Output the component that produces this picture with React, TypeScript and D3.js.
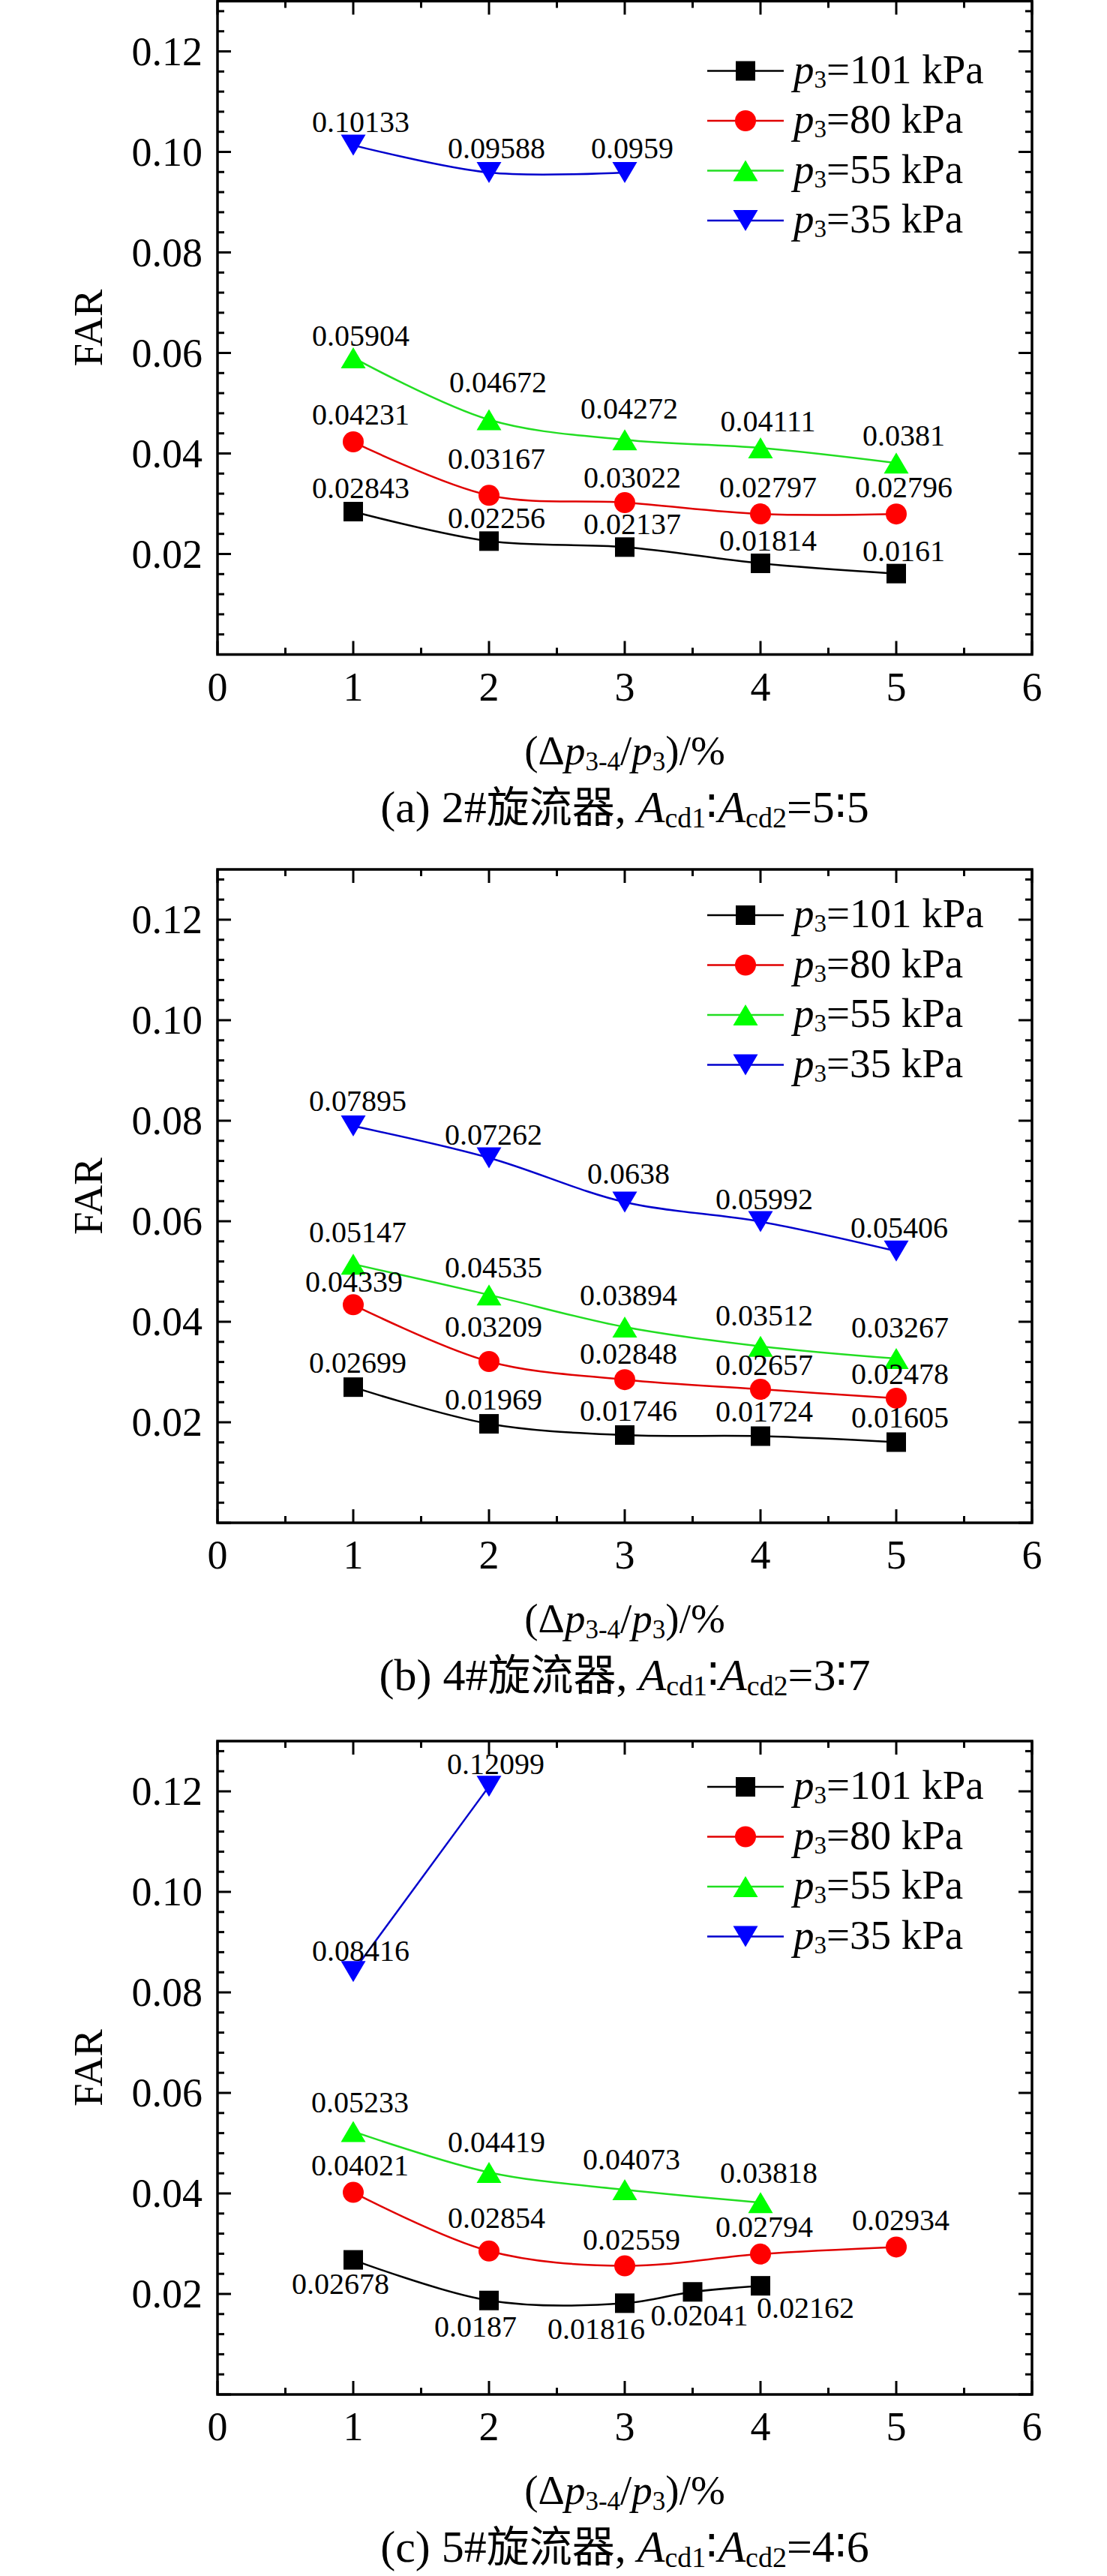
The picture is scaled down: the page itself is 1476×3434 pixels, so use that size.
import React from "react";
import * as d3 from "d3";

// ---------- data ----------
const seriesNames = ["101", "80", "55", "35"];
const seriesColors = ["#000000", "#ff0000", "#00ff00", "#0000ff"];
const lineColors = ["#000000", "#e00000", "#22dd22", "#0000cc"];
const seriesShapes = ["square", "circle", "up", "down"];

const captionsLetters = ["(a)", "(b)", "(c)"];
const captionsNum = ["2#", "4#", "5#"];
const captionsCjk = ["旋流器", "旋流器", "旋流器"];
const captionsRatio = ["=5∶5", "=3∶7", "=4∶6"];

// panel (a)
const aX101 = [1, 2, 3, 4, 5];
const aY101 = [0.02843, 0.02256, 0.02137, 0.01814, 0.0161];
const aX80 = [1, 2, 3, 4, 5];
const aY80 = [0.04231, 0.03167, 0.03022, 0.02797, 0.02796];
const aX55 = [1, 2, 3, 4, 5];
const aY55 = [0.05904, 0.04672, 0.04272, 0.04111, 0.0381];
const aX35 = [1, 2, 3];
const aY35 = [0.10133, 0.09588, 0.0959];

// panel (b)
const bX101 = [1, 2, 3, 4, 5];
const bY101 = [0.02699, 0.01969, 0.01746, 0.01724, 0.01605];
const bX80 = [1, 2, 3, 4, 5];
const bY80 = [0.04339, 0.03209, 0.02848, 0.02657, 0.02478];
const bX55 = [1, 2, 3, 4, 5];
const bY55 = [0.05147, 0.04535, 0.03894, 0.03512, 0.03267];
const bX35 = [1, 2, 3, 4, 5];
const bY35 = [0.07895, 0.07262, 0.0638, 0.05992, 0.05406];

// panel (c)
const cX101 = [1, 2, 3, 3.5, 4];
const cY101 = [0.02678, 0.0187, 0.01816, 0.02041, 0.02162];
const cX80 = [1, 2, 3, 4, 5];
const cY80 = [0.04021, 0.02854, 0.02559, 0.02794, 0.02934];
const cX55 = [1, 2, 3, 4];
const cY55 = [0.05233, 0.04419, 0.04073, 0.03818];
const cX35 = [1, 2];
const cY35 = [0.08416, 0.12099];

// label offsets (layout) [dx, dy] relative to marker centre
const aOff = [
  [[10, -18], [10, -17], [10, -17], [10, -17], [10, -17]],
  [[10, -23], [10, -35], [10, -20], [10, -22], [10, -22]],
  [[10, -16], [12, -36], [6, -28], [10, -22], [10, -23]],
  [[10, -18], [10, -19], [10, -19]],
];
const bOff = [
  [[6, -19], [6, -19], [5, -19], [5, -19], [5, -19]],
  [[1, -17], [6, -33], [5, -21], [5, -19], [5, -19]],
  [[6, -29], [6, -23], [5, -29], [5, -28], [5, -28]],
  [[6, -20], [6, -17], [5, -25], [5, -17], [4, -18]],
];
const cOff = [
  [[-17, 45], [-18, 48], [-38, 48], [9, 45], [60, 43]],
  [[9, -23], [10, -31], [9, -22], [5, -23], [6, -22]],
  [[9, -25], [10, -27], [9, -27], [11, -26]],
  [[10, -14], [9, -16]],
];

const xDomain = [0, 6];
const yDomain = [0, 0.13];

// ---------- layout ----------
const W = 1476;
const H = 3434;
const plotLeft = 290;
const plotRight = 1376;
const plotH = 871;
const panelTops = [1.5, 1159, 2321];
const legendRel = [93, 61, 61];

const SERIF = "Liberation Serif, Times New Roman, DejaVu Serif, serif";
const CJK = "Noto Sans CJK SC, Noto Sans CJK JP, sans-serif";

type Series = { xs: number[]; ys: number[]; off: number[][] };

const panels: Series[][] = [
  [
    { xs: aX101, ys: aY101, off: aOff[0] },
    { xs: aX80, ys: aY80, off: aOff[1] },
    { xs: aX55, ys: aY55, off: aOff[2] },
    { xs: aX35, ys: aY35, off: aOff[3] },
  ],
  [
    { xs: bX101, ys: bY101, off: bOff[0] },
    { xs: bX80, ys: bY80, off: bOff[1] },
    { xs: bX55, ys: bY55, off: bOff[2] },
    { xs: bX35, ys: bY35, off: bOff[3] },
  ],
  [
    { xs: cX101, ys: cY101, off: cOff[0] },
    { xs: cX80, ys: cY80, off: cOff[1] },
    { xs: cX55, ys: cY55, off: cOff[2] },
    { xs: cX35, ys: cY35, off: cOff[3] },
  ],
];

const serifStyle = { fontFamily: SERIF };
const cjkStyle = { fontFamily: CJK };

function Marker({ shape, x, y, color }: { shape: string; x: number; y: number; color: string }) {
  if (shape === "square") return <rect x={x - 13} y={y - 13} width={26} height={26} fill={color} />;
  if (shape === "circle") return <circle cx={x} cy={y} r={14} fill={color} />;
  if (shape === "up")
    return <polygon points={`${x},${y - 14} ${x + 16.5},${y + 14} ${x - 16.5},${y + 14}`} fill={color} />;
  return <polygon points={`${x},${y + 14} ${x - 16.5},${y - 14} ${x + 16.5},${y - 14}`} fill={color} />;
}

function Panel({ idx }: { idx: number }) {
  const top = panelTops[idx];
  const bottom = top + plotH;
  const x = d3.scaleLinear().domain(xDomain).range([plotLeft, plotRight]);
  const y = d3.scaleLinear().domain(yDomain).range([bottom, top]);
  const xMajor = x.ticks(6);
  const xMinor = x.ticks(12).filter((v) => !xMajor.includes(v));
  const yAll = d3.range(0, 0.1301, 0.004);
  const yMajor = [0.02, 0.04, 0.06, 0.08, 0.1, 0.12];
  const line = d3
    .line<[number, number]>()
    .x((d) => x(d[0]))
    .y((d) => y(d[1]))
    .curve(d3.curveCatmullRom.alpha(0.5));
  const series = panels[idx];
  const cx = (plotLeft + plotRight) / 2;
  const cy = (top + bottom) / 2;
  const legTop = top + legendRel[idx];
  return (
    <g style={serifStyle}>
      {series.map((s, i) => (
        <path
          key={"l" + i}
          d={line(s.xs.map((v, j) => [v, s.ys[j]] as [number, number])) || ""}
          fill="none"
          stroke={lineColors[i]}
          strokeWidth={2.5}
        />
      ))}
      {series.map((s, i) =>
        s.xs.map((v, j) => (
          <Marker key={"m" + i + "_" + j} shape={seriesShapes[i]} x={x(v)} y={y(s.ys[j])} color={seriesColors[i]} />
        ))
      )}
      {series.map((s, i) =>
        s.xs.map((v, j) => (
          <text
            key={"t" + i + "_" + j}
            x={x(v) + s.off[j][0]}
            y={y(s.ys[j]) + s.off[j][1]}
            textAnchor="middle"
            style={serifStyle}
            fontSize={40}
            fill="#000"
          >
            {String(s.ys[j])}
          </text>
        ))
      )}
      <rect x={plotLeft} y={top} width={plotRight - plotLeft} height={plotH} fill="none" stroke="#000" strokeWidth={3.5} />
      {xMajor.map((v) => (
        <g key={"xM" + v}>
          <line x1={x(v)} x2={x(v)} y1={bottom} y2={bottom - 18} stroke="#000" strokeWidth={3} />
          <line x1={x(v)} x2={x(v)} y1={top} y2={top + 18} stroke="#000" strokeWidth={3} />
          <text x={x(v)} y={bottom + 61} textAnchor="middle" style={serifStyle} fontSize={54}>
            {v}
          </text>
        </g>
      ))}
      {xMinor.map((v) => (
        <g key={"xm" + v}>
          <line x1={x(v)} x2={x(v)} y1={bottom} y2={bottom - 9} stroke="#000" strokeWidth={3} />
          <line x1={x(v)} x2={x(v)} y1={top} y2={top + 9} stroke="#000" strokeWidth={3} />
        </g>
      ))}
      {yAll.map((v, k) => {
        const len = k % 5 === 0 ? 18 : 9;
        return (
          <g key={"y" + k}>
            <line x1={plotLeft} x2={plotLeft + len} y1={y(v)} y2={y(v)} stroke="#000" strokeWidth={3} />
            <line x1={plotRight} x2={plotRight - len} y1={y(v)} y2={y(v)} stroke="#000" strokeWidth={3} />
          </g>
        );
      })}
      {yMajor.map((v) => (
        <text key={"yl" + v} x={270} y={y(v) + 18} textAnchor="end" style={serifStyle} fontSize={54}>
          {v.toFixed(2)}
        </text>
      ))}
      <text
        transform={`translate(${136},${cy}) rotate(-90)`}
        textAnchor="middle"
        style={serifStyle}
        fontSize={55}
      >
        FAR
      </text>
      <text x={cx} y={bottom + 146} textAnchor="middle" style={serifStyle} fontSize={55}>
        (Δ<tspan fontStyle="italic">p</tspan>
        <tspan fontSize={35} dy={8}>3-4</tspan>
        <tspan dy={-8}>/</tspan>
        <tspan fontStyle="italic">p</tspan>
        <tspan fontSize={35} dy={8}>3</tspan>
        <tspan dy={-8}>)/%</tspan>
      </text>
      {seriesNames.map((n, i) => {
        const ly = legTop + i * 66.5;
        return (
          <g key={"lg" + i}>
            <line x1={943} x2={1045} y1={ly} y2={ly} stroke={lineColors[i]} strokeWidth={2.5} />
            <Marker shape={seriesShapes[i]} x={994} y={ly} color={seriesColors[i]} />
            <text x={1058} y={ly + 16} style={serifStyle} fontSize={55}>
              <tspan fontStyle="italic">p</tspan>
              <tspan fontSize={33} dy={6}>3</tspan>
              <tspan dy={-6}>={n} kPa</tspan>
            </text>
          </g>
        );
      })}
    </g>
  );
}

function Caption({ idx }: { idx: number }) {
  const bottom = panelTops[idx] + plotH;
  const cx = (plotLeft + plotRight) / 2;
  return (
    <text x={cx} y={bottom + 223} textAnchor="middle" style={serifStyle} fontSize={60} fill="#000">
      {captionsLetters[idx]} {captionsNum[idx]}
      <tspan style={cjkStyle} fontSize={57}>{captionsCjk[idx]}</tspan>
      <tspan>{", "}</tspan>
      <tspan fontStyle="italic">A</tspan>
      <tspan fontSize={38} dy={7}>cd1</tspan>
      <tspan dy={-7}>∶</tspan>
      <tspan fontStyle="italic">A</tspan>
      <tspan fontSize={38} dy={7}>cd2</tspan>
      <tspan dy={-7}>{captionsRatio[idx]}</tspan>
    </text>
  );
}

export default function App() {
  return (
    <svg
      width={W}
      height={H}
      viewBox={`0 0 ${W} ${H}`}
      style={{ position: "absolute", left: 0, top: 0, background: "#fff" }}
    >
      <rect x={0} y={0} width={W} height={H} fill="#fff" />
      {[0, 1, 2].map((i) => (
        <g key={i}>
          <Panel idx={i} />
          <Caption idx={i} />
        </g>
      ))}
    </svg>
  );
}
